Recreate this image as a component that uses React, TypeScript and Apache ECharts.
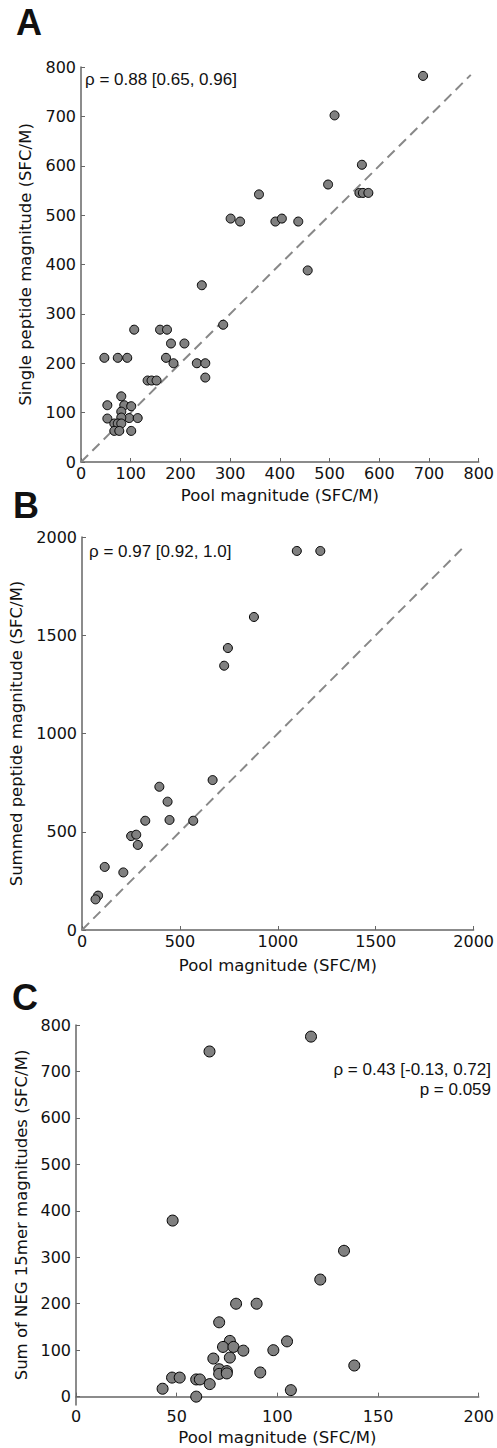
import React, { useEffect, useRef } from "react";
import * as echarts from "echarts";

// Panel A: pool magnitude vs single peptide magnitude
const poolA = [688, 510, 565, 497, 358, 560, 567, 578, 301, 320, 391, 404, 437, 456, 243, 286, 107, 159, 173, 181, 208, 47, 74, 93, 171, 186, 233, 250, 250, 134, 142, 152, 81, 53, 87, 101, 81, 53, 97, 114, 81, 67, 74, 81, 67, 77, 101];
const singleA = [782, 702, 602, 562, 542, 545, 545, 545, 493, 487, 487, 493, 487, 388, 358, 278, 268, 268, 268, 240, 240, 211, 211, 211, 211, 200, 200, 200, 171, 165, 165, 165, 133, 115, 115, 113, 102, 88, 89, 89, 90, 78, 78, 78, 63, 63, 63];

// Panel B: pool magnitude vs summed peptide magnitude
const poolB = [1097, 1217, 878, 745, 726, 667, 395, 437, 323, 447, 568, 251, 277, 285, 116, 211, 82, 69];
const summedB = [1929, 1929, 1593, 1435, 1345, 763, 729, 653, 556, 560, 556, 478, 485, 433, 321, 293, 175, 156];

// Panel C: pool magnitude vs sum of NEG 15mer magnitudes
const poolC = [66.3, 116.7, 48, 133.1, 121.3, 79.5, 89.7, 71.1, 76.4, 104.8, 73, 78.2, 83.1, 98, 68.2, 76.4, 138.2, 71.1, 71.1, 74.9, 74.9, 91.5, 47.7, 51.5, 59.7, 61.5, 66.4, 43, 106.7, 59.7];
const negC = [743, 775, 379, 314, 252, 200, 200, 160, 120, 119, 107, 107, 99, 100, 82, 84, 67, 59, 49, 55, 50, 52, 41, 41, 37, 37, 27, 17, 14, 0];

// identity reference lines
const diagA = [[0, 0], [784, 784]];
const diagB = [[0, 0], [1960, 1960]];

const ticksCY = [0, 100, 200, 300, 400, 500, 600, 700, 800];

const zip = (xs: number[], ys: number[]) => xs.map((x, i) => [x, ys[i]]);

const AX = "#666";
const TXT = "#111";
const TICKFONT = "DejaVu Sans";
const plain = (v: number) => String(v);

function xAxisCfg(gridIndex: number, max: number, interval: number, nameGap: number) {
  return {
    type: "value",
    gridIndex,
    min: 0,
    max,
    interval,
    name: "Pool magnitude (SFC/M)",
    nameLocation: "middle",
    nameGap,
    nameTextStyle: { fontFamily: TICKFONT, fontSize: 16.5, color: TXT },
    axisLine: { show: true, lineStyle: { color: AX, width: 1.5 } },
    axisTick: { show: true, inside: true, length: 4, lineStyle: { color: AX, width: 1 } },
    axisLabel: { fontFamily: TICKFONT, fontSize: 16, color: TXT, margin: 3, showMinLabel: true, showMaxLabel: true, formatter: plain },
    splitLine: { show: false },
  };
}

function yAxisCfg(gridIndex: number, min: number, max: number, interval: number, name: string, nameGap: number, custom?: number[]) {
  const cfg: any = {
    type: "value",
    gridIndex,
    min,
    max,
    name,
    nameLocation: "middle",
    nameGap,
    nameTextStyle: { fontFamily: TICKFONT, fontSize: 16.5, color: TXT },
    axisLine: { show: true, lineStyle: { color: AX, width: 1.5 } },
    axisTick: { show: true, inside: true, length: 4, lineStyle: { color: AX, width: 1 } },
    axisLabel: { fontFamily: TICKFONT, fontSize: 16, color: TXT, margin: 5, showMinLabel: true, showMaxLabel: true, formatter: plain },
    splitLine: { show: false },
  };
  if (custom) {
    cfg.axisTick.customValues = custom;
    cfg.axisLabel.customValues = custom;
  } else {
    cfg.interval = interval;
  }
  return cfg;
}

function scatter(idx: number, data: number[][], size: number) {
  return {
    type: "scatter",
    xAxisIndex: idx,
    yAxisIndex: idx,
    data,
    symbolSize: size,
    itemStyle: { color: "#808080", borderColor: "#000", borderWidth: 1, opacity: 1 },
    z: 3,
  };
}

function diag(idx: number, data: number[][]) {
  return {
    type: "line",
    xAxisIndex: idx,
    yAxisIndex: idx,
    data,
    symbol: "none",
    lineStyle: { color: "#888", width: 2, type: [10, 6] },
    z: 2,
  };
}

export default function App() {
  const ref = useRef<HTMLDivElement>(null);
  useEffect(() => {
    document.body.style.margin = "0";
    const chart = echarts.init(ref.current!, null, { renderer: "svg" });
    const letter = (t: string, x: number, y: number) => ({
      type: "text",
      x,
      y,
      style: { text: t, fontFamily: "Liberation Sans", fontWeight: "bold", fontSize: 36, fill: "#111", align: "left", verticalAlign: "middle" },
    });
    const note = (t: string, x: number, y: number, align: string) => ({
      type: "text",
      x,
      y,
      style: { text: t, fontFamily: "Liberation Sans", fontSize: 17, fill: TXT, align, verticalAlign: "middle" },
    });
    chart.setOption({
      animation: false,
      backgroundColor: "#fff",
      grid: [
        { left: 81, top: 67, width: 406, height: 395 },
        { left: 82, top: 537, width: 407, height: 393 },
        { left: 76, top: 1025, width: 407, height: 380 },
      ],
      xAxis: [xAxisCfg(0, 800, 100, 25), xAxisCfg(1, 2000, 500, 27), xAxisCfg(2, 200, 50, 24)],
      yAxis: [
        yAxisCfg(0, 0, 800, 100, "Single peptide magnitude (SFC/M)", 47),
        yAxisCfg(1, 0, 2000, 500, "Summed peptide magnitude (SFC/M)", 48),
        yAxisCfg(2, -18, 800, 100, "Sum of NEG 15mer magnitudes (SFC/M)", 42, ticksCY),
      ],
      series: [
        diag(0, diagA),
        scatter(0, zip(poolA, singleA), 9),
        diag(1, diagB),
        scatter(1, zip(poolB, summedB), 9),
        scatter(2, zip(poolC, negC), 11),
      ],
      graphic: [
        letter("A", 16, 22),
        letter("B", 13, 505.5),
        letter("C", 12, 997.5),
        note("ρ = 0.88 [0.65, 0.96]", 85, 79.5, "left"),
        note("ρ = 0.97 [0.92, 1.0]", 89, 551, "left"),
        note("ρ = 0.43 [-0.13, 0.72]", 491, 1069, "right"),
        note("p = 0.059", 491, 1089, "right"),
      ],
    });
    return () => chart.dispose();
  }, []);
  return <div ref={ref} style={{ width: 497, height: 1448 }} />;
}
